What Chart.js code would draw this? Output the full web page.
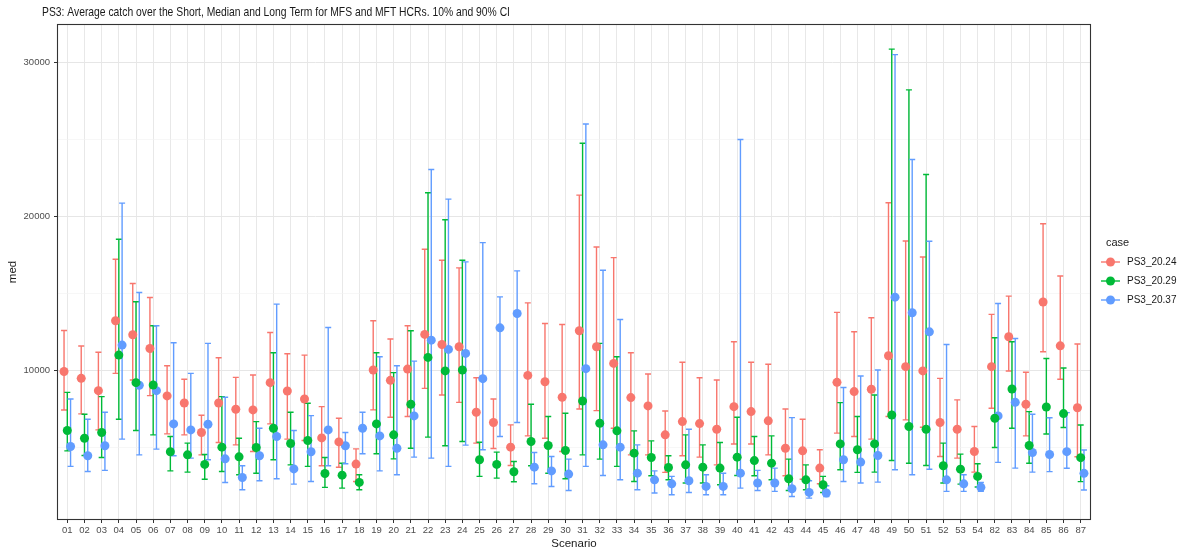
<!DOCTYPE html>
<html><head><meta charset="utf-8">
<script src="https://cdn.jsdelivr.net/npm/chart.js@4.4.1/dist/chart.umd.min.js"></script>
<style>html,body{margin:0;padding:0;background:#fff}#wrap{width:1187px;height:554px;position:relative}</style>
</head><body><div id="wrap"><canvas id="c" width="1187" height="554"></canvas></div>
<script>
const scenarios = ['01','02','03','04','05','06','07','08','09','10','11','12','13','14','15','16','17','18','19','20','21','22','23','24','25','26','27','28','29','30','31','32','33','34','35','36','37','38','39','40','41','42','43','44','45','46','47','48','49','50','51','52','53','54','82','83','84','85','86','87'];
const caseNames = ['PS3_20.24','PS3_20.29','PS3_20.37'];
const yTickValues = [5000,10000,15000,20000,25000,30000];

const med2024 = [9900,9460,8660,13200,12290,11400,8320,7860,5940,7860,7450,7410,9180,8640,8120,5590,5330,3890,10000,9330,10060,12310,11660,11510,7260,6590,4990,9650,9240,8230,12550,11510,10430,8210,7670,5790,6650,6520,6150,7620,7300,6700,4920,4750,3630,9200,8600,8750,10930,10220,9940,6590,6150,4710,10220,12160,7780,14420,11570,7550];
const lo2024 = [7400,7150,6110,9780,9350,8340,5850,5790,4490,5290,5140,4710,6500,5510,5420,3780,3690,2760,7410,6930,6980,8810,8380,7900,5250,4900,3800,5720,5570,4710,7470,7360,6220,4490,4490,3350,4430,4340,3840,5200,5200,4490,3130,2910,2610,5900,5680,5510,6980,6760,6280,4380,4280,3370,7520,9940,5720,11190,9400,4370];
const hi2024 = [12570,11560,11150,17190,15620,14710,10280,9400,7060,10800,9520,9680,12440,11060,10970,7620,6870,4880,13200,12010,12870,17840,17130,16630,9500,8120,6440,14360,13020,12960,21360,17990,17300,11120,9740,7340,10500,9500,9350,11840,10500,10370,7470,6800,4820,13740,12480,13390,20860,18380,17340,9460,8060,6330,13610,14800,9850,19500,16110,11690];

const med2029 = [6070,5570,5940,10970,9180,9030,4690,4490,3870,4990,4360,4970,6220,5230,5420,3280,3170,2700,6500,5790,7780,10820,9940,10000,4170,3870,3390,5360,5100,4770,7990,6540,6050,4600,4320,3670,3840,3690,3630,4340,4120,3950,2940,2870,2550,5200,4820,5200,7080,6330,6150,3780,3560,3090,6870,8770,5100,7600,7170,4310];
const lo2029 = [4750,4450,4320,6800,6070,5790,3450,3370,2910,3410,3200,3300,4170,3840,3740,2380,2330,2220,4560,4230,4920,5640,5080,5360,3090,2980,2740,3780,3300,2940,4490,4210,3740,2760,3130,2870,2660,2660,2550,3150,3130,2870,2180,2220,2050,3520,3350,3370,4120,3950,3800,2660,2590,2400,4970,6220,3950,5840,6270,2750];
const hi2029 = [8550,7130,8270,18490,14430,12870,5680,5250,4510,8270,5570,6650,11120,7260,7840,4320,3950,3200,11120,9830,12550,21510,19760,17130,5310,4670,4060,7780,6980,7190,24730,11730,10860,6050,5400,4430,5790,5140,5290,6930,5680,5720,4210,3840,3090,7880,6980,8380,30840,28190,22700,5250,4540,3910,12100,11840,7300,10750,10130,6430];

const med2037 = [5030,4430,5080,11620,9010,8660,6500,6110,6480,4230,3020,4430,5680,3580,4690,6110,5080,6220,5720,4920,7020,11940,11340,11080,9440,12740,13670,3690,3450,3240,10090,5140,4990,3300,2870,2610,2810,2440,2440,3300,2660,2660,2290,2050,2010,4170,4020,4450,14730,13720,12480,2870,2610,2380,7020,7900,4640,4510,4700,3290];
const lo2037 = [3740,3410,3480,5510,4490,4860,4430,4280,4170,2700,2220,2810,2940,2590,2760,3780,3910,4560,3450,3200,4340,4280,3740,5120,4820,5680,6590,2610,2440,2180,3740,3150,2870,2220,2010,1900,2050,1900,1900,2330,2180,2120,1790,1680,1790,2760,2660,2720,3520,3200,3560,2120,2120,2120,4000,3630,3370,3400,3620,2210];
const hi2037 = [8120,6800,7260,20840,15030,12870,11770,9780,11730,8230,3780,6220,14280,6070,7040,12760,5940,7260,10860,10280,10580,23020,21100,17020,18270,14750,16440,4640,4380,4210,25980,16480,13280,5140,3450,3090,6150,3200,3300,24970,3480,3630,6910,2810,2480,8860,9610,10000,30480,23670,18360,11660,3200,2700,14320,12050,7130,6900,7230,4810];

const colors = ['#F8766D','#00BA38','#619CFF'];
const dodge = [-0.19, 0, 0.19];
const series = [
  {name: caseNames[0], med: med2024, lo: lo2024, hi: hi2024},
  {name: caseNames[1], med: med2029, lo: lo2029, hi: hi2029},
  {name: caseNames[2], med: med2037, lo: lo2037, hi: hi2037}
];
const FONT = '"Liberation Sans", Arial, sans-serif';

const errorBars = {
  id: 'errorBars',
  beforeDatasetsDraw(chart) {
    const {ctx, scales: {x, y}} = chart;
    const cap = 3;
    ctx.save();
    ctx.lineWidth = 1.4;
    series.forEach((s, k) => {
      ctx.strokeStyle = colors[k];
      s.lo.forEach((lo, i) => {
        const px = x.getPixelForValue(i + dodge[k]);
        const pl = y.getPixelForValue(lo);
        const ph = y.getPixelForValue(s.hi[i]);
        ctx.beginPath();
        ctx.moveTo(px, pl); ctx.lineTo(px, ph);
        ctx.moveTo(px - cap, pl); ctx.lineTo(px + cap, pl);
        ctx.moveTo(px - cap, ph); ctx.lineTo(px + cap, ph);
        ctx.stroke();
      });
    });
    ctx.restore();
  }
};

const decor = {
  id: 'decor',
  afterDraw(chart) {
    const {ctx, chartArea: a} = chart;
    ctx.save();
    // panel border
    ctx.strokeStyle = '#333333';
    ctx.lineWidth = 1.1;
    ctx.strokeRect(a.left + 0.5, a.top + 0.5, a.right - a.left - 1, a.bottom - a.top - 1);
    // title
    ctx.fillStyle = '#1a1a1a';
    ctx.textBaseline = 'alphabetic';
    ctx.textAlign = 'left';
    ctx.save();
    ctx.translate(42, 15.5);
    ctx.scale(0.795, 1);
    ctx.font = '13px ' + FONT;
    ctx.fillText('PS3: Average catch over the Short, Median and Long Term for MFS and MFT HCRs. 10% and 90% CI', 0, 0);
    ctx.restore();
    // axis titles
    ctx.fillStyle = '#1a1a1a';
    ctx.font = '11.5px ' + FONT;
    ctx.textAlign = 'center';
    ctx.textBaseline = 'middle';
    ctx.fillText('Scenario', (a.left + a.right) / 2, 544);
    ctx.save();
    ctx.translate(13, (a.top + a.bottom) / 2);
    ctx.rotate(-Math.PI / 2);
    ctx.fillText('med', 0, 0);
    ctx.restore();
    // legend
    ctx.textAlign = 'left';
    ctx.font = '11px ' + FONT;
    ctx.fillText('case', 1106, 243);
    ctx.font = '10px ' + FONT;
    const rows = [262, 281, 300];
    series.forEach((s, k) => {
      const cy = rows[k];
      ctx.strokeStyle = colors[k];
      ctx.lineWidth = 1.4;
      ctx.beginPath();
      ctx.moveTo(1101, cy); ctx.lineTo(1120, cy);
      ctx.stroke();
      ctx.fillStyle = colors[k];
      ctx.beginPath();
      ctx.arc(1110.5, cy, 4.5, 0, Math.PI * 2);
      ctx.fill();
      ctx.fillStyle = '#1a1a1a';
      ctx.fillText(s.name, 1127, cy);
    });
    ctx.restore();
  }
};

const datasets = series.map((s, k) => ({
  label: s.name,
  type: 'scatter',
  data: s.med.map((v, i) => ({x: i + dodge[k], y: v})),
  backgroundColor: colors[k],
  borderColor: colors[k],
  borderWidth: 0,
  pointRadius: 4.5,
  pointHoverRadius: 4.5
}));

new Chart(document.getElementById('c'), {
  type: 'scatter',
  data: {datasets},
  options: {
    responsive: false,
    animation: false,
    devicePixelRatio: 1,
    layout: {padding: {top: 24, right: 96, bottom: 0, left: 0}},
    plugins: {legend: {display: false}, tooltip: {enabled: false}, title: {display: false}},
    scales: {
      x: {
        type: 'linear',
        min: -0.6,
        max: scenarios.length - 1 + 0.6,
        afterBuildTicks(s) { s.ticks = scenarios.map((_, i) => ({value: i})); },
        afterFit(s) { s.height = 34; },
        ticks: {
          autoSkip: false, maxRotation: 0, minRotation: 0, padding: 2,
          color: '#4d4d4d', font: {family: FONT, size: 9.5},
          callback: (v) => scenarios[v]
        },
        grid: {color: '#e8e8e8', lineWidth: 1, drawTicks: true, tickLength: 3, tickColor: '#333333'},
        border: {display: false}
      },
      y: {
        type: 'linear',
        min: 260,
        max: 32470,
        afterBuildTicks(s) { s.ticks = yTickValues.map(v => ({value: v})); },
        afterFit(s) { s.width = 57; },
        ticks: {
          padding: 4, color: '#4d4d4d', font: {family: FONT, size: 9.5},
          callback: (v) => (v % 10000 === 0 ? String(v) : '')
        },
        grid: {
          color: (c) => (c.tick && c.tick.value % 10000 === 0 ? '#e6e6e6' : '#f2f2f2'),
          lineWidth: (c) => (c.tick && c.tick.value % 10000 === 0 ? 1 : 0.6),
          drawTicks: true, tickLength: 3,
          tickColor: (c) => (c.tick && c.tick.value % 10000 === 0 ? '#333333' : 'rgba(0,0,0,0)')
        },
        border: {display: false}
      }
    }
  },
  plugins: [errorBars, decor]
});
</script>
</body></html>
